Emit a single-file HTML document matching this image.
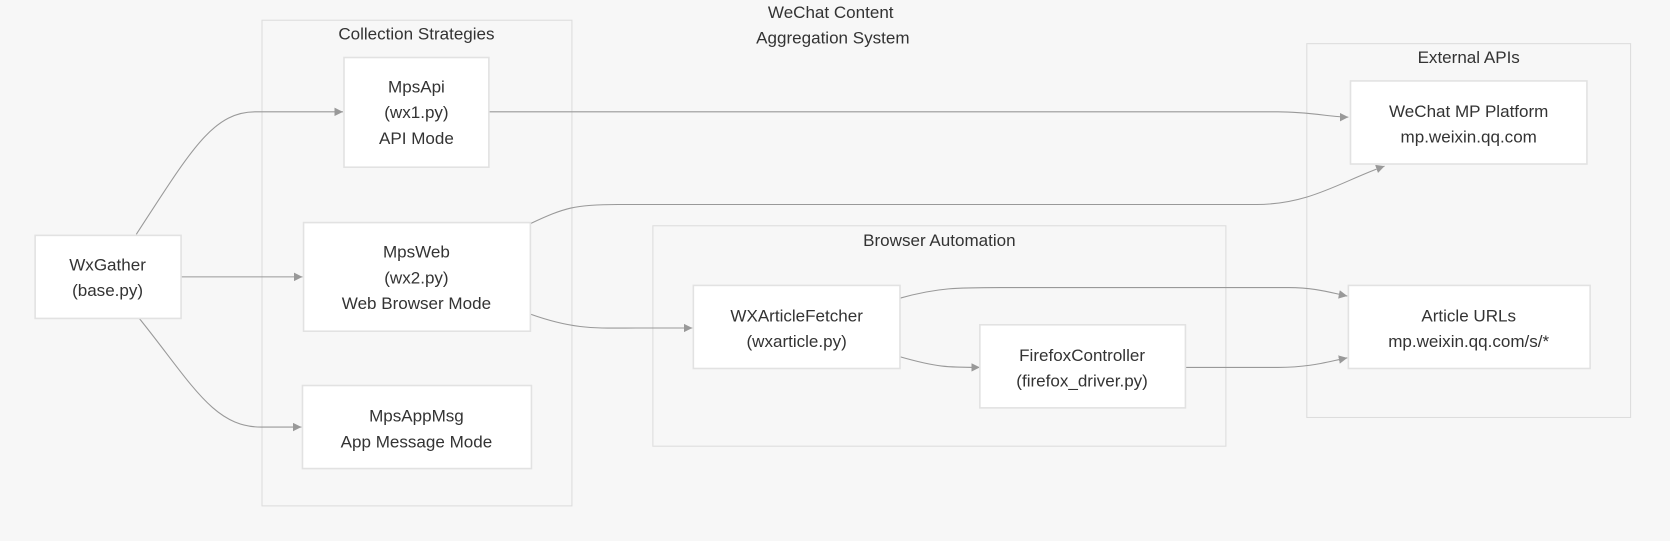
<!DOCTYPE html>
<html><head><meta charset="utf-8"><style>
html,body{margin:0;padding:0;background:#f7f7f7;}
svg{display:block;}
text{font-family:"Liberation Sans","DejaVu Sans",sans-serif;font-size:16px;fill:#333;text-anchor:middle;}
.c{fill:none;stroke:#ddd;stroke-width:1;}
.n{fill:#fff;stroke:#e2e2e2;stroke-width:1.5;}
.e{fill:none;stroke:#999;stroke-width:1;marker-end:url(#a);}
</style></head><body>
<svg width="1670" height="541" viewBox="0 0 1568 508" preserveAspectRatio="none">
<defs><marker id="a" viewBox="0 0 10 10" refX="10" refY="5" markerWidth="8" markerHeight="8" orient="auto"><path d="M0,0L10,5L0,10z" fill="#999"/></marker></defs>
<text x="780" y="17">WeChat Content</text>
<text x="782" y="41">Aggregation System</text>
<rect class="c" x="246" y="19" width="291" height="456"/>
<text x="391" y="37">Collection Strategies</text>
<rect class="c" x="613" y="212" width="538" height="207"/>
<text x="882" y="231">Browser Automation</text>
<rect class="c" x="1227" y="41" width="304" height="351"/>
<text x="1379" y="59">External APIs</text>

<path class="e" d="M128,220 C180,140 200,105 240,105 L322,105"/>
<path class="e" d="M170,260 L284,260"/>
<path class="e" d="M130,298 C180,360 200,401 245,401 L283,401"/>
<path class="e" d="M459,105 L1200,105 C1230,105 1250,110 1266,110"/>
<path class="e" d="M498,210 C530,195 540,192 580,192 L1180,192 C1230,192 1260,170 1300,156"/>
<path class="e" d="M498,295 C540,310 560,308 600,308 L650,308"/>
<path class="e" d="M845,280 C880,270 900,270 940,270 L1210,270 C1235,270 1250,275 1265,278"/>
<path class="e" d="M845,335 C880,345 890,345 920,345"/>
<path class="e" d="M1113,345 L1200,345 C1230,345 1245,340 1265,336"/>

<rect class="n" x="33" y="221" width="137" height="78"/>
<text x="101" y="254">WxGather</text><text x="101" y="278">(base.py)</text>
<rect class="n" x="323" y="54" width="136" height="103"/>
<text x="391" y="87">MpsApi</text><text x="391" y="111">(wx1.py)</text><text x="391" y="135">API Mode</text>
<rect class="n" x="285" y="209" width="213" height="102"/>
<text x="391" y="242">MpsWeb</text><text x="391" y="266">(wx2.py)</text><text x="391" y="290">Web Browser Mode</text>
<rect class="n" x="284" y="362" width="215" height="78"/>
<text x="391" y="396">MpsAppMsg</text><text x="391" y="420">App Message Mode</text>
<rect class="n" x="651" y="268" width="194" height="78"/>
<text x="748" y="302">WXArticleFetcher</text><text x="748" y="326">(wxarticle.py)</text>
<rect class="n" x="920" y="305" width="193" height="78"/>
<text x="1016" y="339">FirefoxController</text><text x="1016" y="363">(firefox_driver.py)</text>
<rect class="n" x="1268" y="76" width="222" height="78"/>
<text x="1379" y="110">WeChat MP Platform</text><text x="1379" y="134">mp.weixin.qq.com</text>
<rect class="n" x="1266" y="268" width="227" height="78"/>
<text x="1379" y="302">Article URLs</text><text x="1379" y="326">mp.weixin.qq.com/s/*</text>
</svg>
</body></html>
